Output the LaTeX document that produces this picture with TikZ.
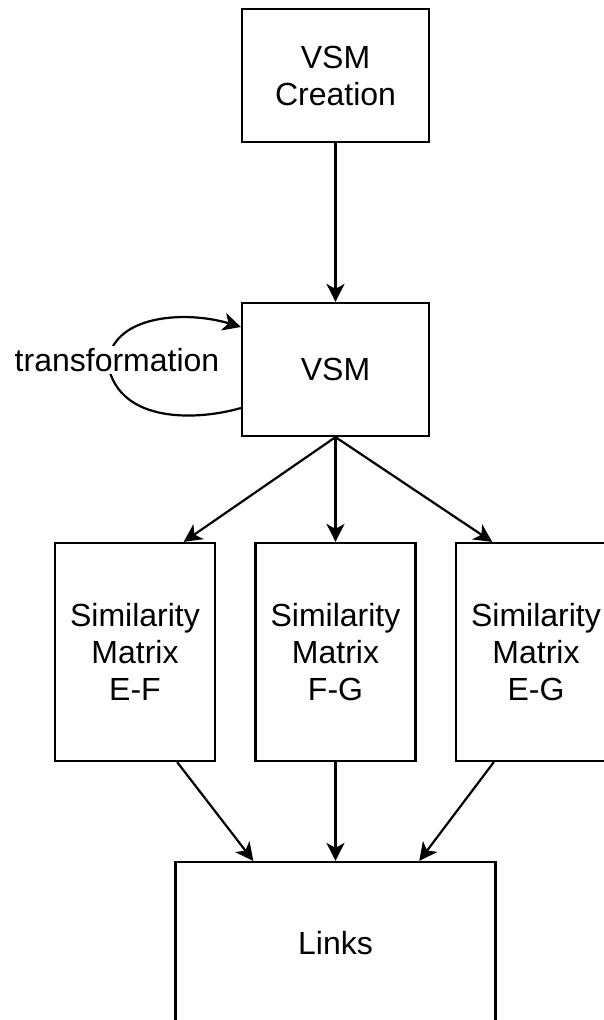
\documentclass[tikz,border=0pt]{standalone}
\usepackage{fontspec}
\setmainfont{Liberation Sans}
\usetikzlibrary{arrows.meta,calc}
\begin{document}
\begin{tikzpicture}[x=1pt,y=-1pt,
  box/.style={draw=black, line width=2.2pt, fill=white, inner sep=0pt,
    align=center, font=\fontsize{32}{37}\selectfont},
  arr/.style={line width=2.2pt, -{Stealth[length=18pt,width=18pt,inset=5pt]}},
  lbl/.style={fill=white, inner sep=2pt, font=\fontsize{32}{37}\selectfont}]
  % page frame
  \fill[white] (0,0) rectangle (604,1020);
  \clip (0,0) rectangle (604,1020);

  % boxes
  \node[box, minimum width=187pt, minimum height=133pt] (create) at (335.5,75.5) {VSM\\Creation};
  \node[box, minimum width=187pt, minimum height=133pt] (vsm) at (335.5,369.5) {VSM};
  \node[box, minimum width=160pt, minimum height=218pt] (ef) at (135,652) {Similarity\\Matrix\\E-F};
  \node[box, minimum width=160pt, minimum height=218pt] (fg) at (335.5,652) {Similarity\\Matrix\\F-G};
  \node[box, minimum width=160pt, minimum height=218pt] (eg) at (536,652) {Similarity\\Matrix\\E-G};
  \node[box, minimum width=320pt, minimum height=162pt] (links) at (335.5,943) {Links};

  % connectors
  \draw[arr] (create.south) -- (vsm.north);
  \draw[arr] (vsm.south) -- ($(ef.north west)!0.8!(ef.north east)$);
  \draw[arr] (vsm.south) -- (fg.north);
  \draw[arr] (vsm.south) -- ($(eg.north west)!0.23!(eg.north east)$);
  \draw[arr] ($(ef.south west)!0.76!(ef.south east)$) -- ($(links.north west)!0.245!(links.north east)$);
  \draw[arr] (fg.south) -- (links.north);
  \draw[arr] ($(eg.south west)!0.24!(eg.south east)$) -- ($(links.north west)!0.76!(links.north east)$);

  % self loop on VSM
  \draw[arr] ($(vsm.west)+(0,38.5)$) .. controls (200,420) and (120,425) .. (108,365)
    .. controls (110,315) and (185,310) .. ($(vsm.west)+(0,-42.5)$);
  \node[lbl] (tlabel) at (117,360) {transformation};
\end{tikzpicture}
\end{document}
